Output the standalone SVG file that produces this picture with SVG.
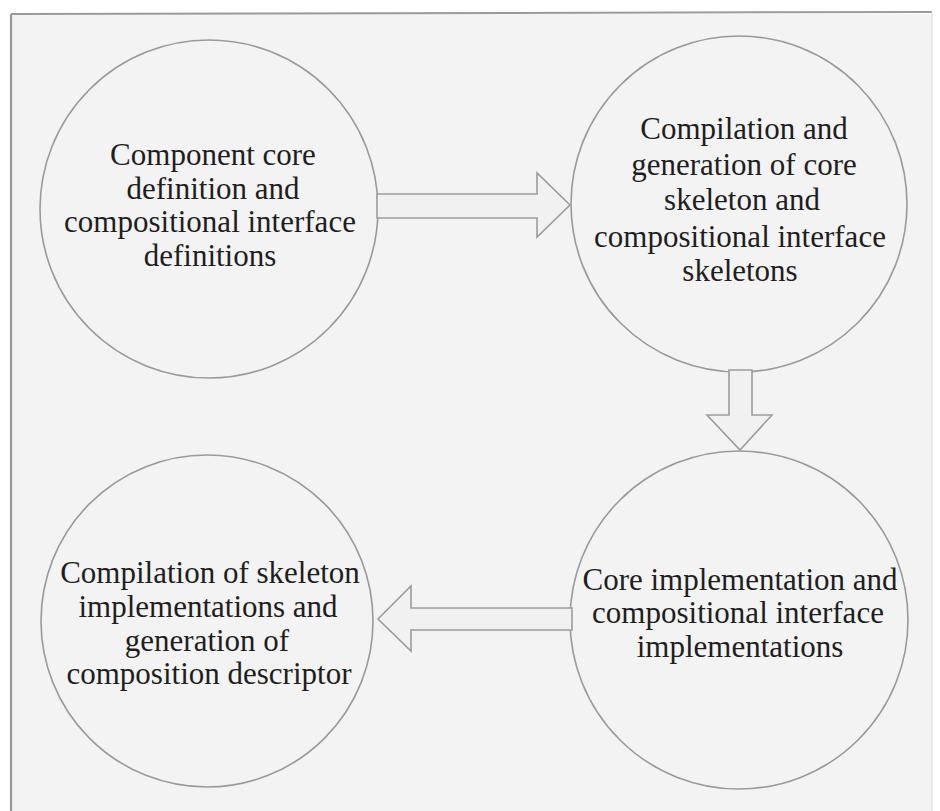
<svg xmlns="http://www.w3.org/2000/svg" width="940" height="811" viewBox="0 0 940 811">
  <style>
    .node circle { fill: none; stroke: #9a9a9a; stroke-width: 1.6; }
    .node text { font-family: "Liberation Serif", "Times New Roman", serif; font-size: 31px; fill: #1e1e1e; text-anchor: middle; }
    .arrow { fill: #f1f1f1; stroke: #9c9c9c; stroke-width: 1.6; stroke-linejoin: miter; }
  </style>
  <!-- page and frame -->
  <rect x="0" y="0" width="940" height="811" fill="#ffffff"/>
  <rect x="11" y="14" width="921" height="797" fill="#f3f3f3"/>
  <line x1="11" y1="14" x2="11" y2="811" stroke="#9a9a9a" stroke-width="2.2"/>
  <line x1="11" y1="14" x2="932" y2="12" stroke="#9a9a9a" stroke-width="2"/>
  <line x1="932" y1="12" x2="932" y2="811" stroke="#e2e2e2" stroke-width="1.5"/>

  <g id="node-definitions" class="node">
    <circle cx="209" cy="209" r="169"/>
    <text x="213" y="165">Component core</text>
    <text x="213" y="199">definition and</text>
    <text x="210" y="232">compositional interface</text>
    <text x="210" y="266">definitions</text>
  </g>

  <g id="node-skeleton-generation" class="node">
    <circle cx="739" cy="204" r="168"/>
    <text x="744" y="139">Compilation and</text>
    <text x="744" y="175">generation of core</text>
    <text x="742" y="210">skeleton and</text>
    <text x="740" y="247">compositional interface</text>
    <text x="740" y="281">skeletons</text>
  </g>

  <g id="node-implementations" class="node">
    <circle cx="739" cy="620" r="169"/>
    <text x="740" y="590">Core implementation and</text>
    <text x="738" y="623">compositional interface</text>
    <text x="740" y="657">implementations</text>
  </g>

  <g id="node-descriptor" class="node">
    <circle cx="207" cy="621" r="166"/>
    <text x="210" y="583">Compilation of skeleton</text>
    <text x="208" y="617">implementations and</text>
    <text x="207" y="651">generation of</text>
    <text x="209" y="684">composition descriptor</text>
  </g>

  <g id="connectors">
    <path class="arrow" d="M377,194 L537,194 L537,173 L570,205 L537,237 L537,218 L377,218 Z"/>
    <path class="arrow" d="M729,370 L752,370 L752,415 L772,415 L740,450 L707,415 L729,415 Z"/>
    <path class="arrow" d="M572,608 L411,608 L411,586 L378,619 L411,651 L411,630 L572,630 Z"/>
  </g>
</svg>
